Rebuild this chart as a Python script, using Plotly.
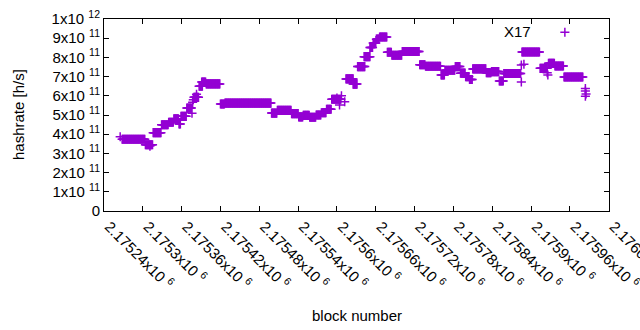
import plotly.graph_objects as go

# Runs of (nearly) constant hashrate: first block, last block, value [h/s]
run_start = [2175265, 2175268, 2175304, 2175311, 2175316, 2175329, 2175340, 2175348, 2175356,
             2175359, 2175368, 2175376, 2175377, 2175378, 2175379, 2175383, 2175387, 2175391,
             2175398, 2175420, 2175427, 2175499, 2175508, 2175530, 2175541, 2175548, 2175558,
             2175568, 2175576, 2175584, 2175592, 2175600, 2175604, 2175607, 2175612, 2175614,
             2175625, 2175632, 2175642, 2175651, 2175656, 2175661, 2175666, 2175678, 2175685,
             2175701, 2175728, 2175737, 2175761, 2175767, 2175783, 2175791, 2175799, 2175805,
             2175810, 2175831, 2175839, 2175851, 2175858, 2175885, 2175885, 2175886, 2175889,
             2175914, 2175925, 2175926, 2175927, 2175937, 2175951, 2175984, 2175984, 2175985,
             2175984]
run_end = [2175265, 2175303, 2175315, 2175311, 2175328, 2175339, 2175347, 2175355, 2175358,
           2175367, 2175375, 2175376, 2175377, 2175378, 2175386, 2175383, 2175392, 2175397,
           2175419, 2175426, 2175498, 2175507, 2175529, 2175540, 2175547, 2175557, 2175567,
           2175575, 2175583, 2175591, 2175606, 2175600, 2175604, 2175607, 2175612, 2175625,
           2175631, 2175643, 2175651, 2175655, 2175660, 2175665, 2175677, 2175684, 2175700,
           2175727, 2175736, 2175760, 2175766, 2175782, 2175790, 2175798, 2175804, 2175809,
           2175830, 2175838, 2175850, 2175857, 2175884, 2175885, 2175885, 2175913, 2175889,
           2175925, 2175925, 2175926, 2175936, 2175950, 2175980, 2175984, 2175984, 2175985,
           2175984]
run_value = [3.87e11, 3.74e11, 3.45e11, 3.38e11, 4.08e11, 4.49e11, 4.62e11, 4.80e11, 4.53e11,
             4.93e11, 5.36e11, 5.09e11, 5.66e11, 5.80e11, 5.92e11, 6.08e11, 6.50e11, 6.72e11,
             6.62e11, 5.57e11, 5.62e11, 5.10e11, 5.24e11, 5.07e11, 4.90e11, 4.98e11, 4.88e11,
             5.00e11, 5.12e11, 5.30e11, 5.82e11, 5.88e11, 5.52e11, 6.00e11, 5.69e11, 6.88e11,
             6.61e11, 7.52e11, 8.04e11, 8.52e11, 8.75e11, 8.95e11, 9.06e11, 8.27e11, 8.11e11,
             8.31e11, 7.62e11, 7.54e11, 7.08e11, 7.33e11, 7.52e11, 7.18e11, 7.00e11, 6.85e11,
             7.40e11, 7.20e11, 7.26e11, 6.77e11, 7.16e11, 7.60e11, 6.72e11, 8.28e11, 7.64e11,
             7.43e11, 7.20e11, 7.08e11, 7.69e11, 7.55e11, 6.98e11, 6.38e11, 6.25e11, 6.10e11,
             5.98e11]

series_name = "X17"
x_title = "block number"
y_title = "hashrate [h/s]"

x_tickvals = [2175240, 2175300, 2175360, 2175420, 2175480, 2175540, 2175600,
              2175660, 2175720, 2175780, 2175840, 2175900, 2175960, 2176020]
x_ticktext = ["2.17524x10 <sup>6</sup>", "2.1753x10 <sup>6</sup>", "2.17536x10 <sup>6</sup>",
              "2.17542x10 <sup>6</sup>", "2.17548x10 <sup>6</sup>", "2.17554x10 <sup>6</sup>",
              "2.1756x10 <sup>6</sup>", "2.17566x10 <sup>6</sup>", "2.17572x10 <sup>6</sup>",
              "2.17578x10 <sup>6</sup>", "2.17584x10 <sup>6</sup>", "2.1759x10 <sup>6</sup>",
              "2.17596x10 <sup>6</sup>", "2.17602x10 <sup>6</sup>"]
y_tickvals = [0, 1e11, 2e11, 3e11, 4e11, 5e11, 6e11, 7e11, 8e11, 9e11, 1e12]
y_ticktext = ["0", "1x10 <sup>11</sup>", "2x10 <sup>11</sup>", "3x10 <sup>11</sup>",
              "4x10 <sup>11</sup>", "5x10 <sup>11</sup>", "6x10 <sup>11</sup>",
              "7x10 <sup>11</sup>", "8x10 <sup>11</sup>", "9x10 <sup>11</sup>",
              "1x10 <sup>12</sup>"]

xs, ys = [], []
for s, e, v in zip(run_start, run_end, run_value):
    for b in range(s, e + 1):
        xs.append(b)
        ys.append(v)

COLOR = "#9400D3"
FONT = "Liberation Sans, Arial, sans-serif"
FS = 15

fig = go.Figure()
fig.add_trace(go.Scatter(
    x=xs, y=ys, mode="markers", name=" ",
    marker=dict(symbol="cross-thin", size=6.5, color=COLOR,
                line=dict(color=COLOR, width=1.5)),
    showlegend=True,
))

axis_common = dict(
    showgrid=False, zeroline=False, showline=True, linecolor="black", linewidth=1,
    mirror="ticks", ticks="inside", ticklen=5, tickcolor="black", tickwidth=1,
    tickfont=dict(family=FONT, size=FS, color="black"), automargin=False,
    ticklabeloverflow="allow",
)

fig.update_layout(
    width=640, height=330,
    margin=dict(l=104, r=31, t=19, b=119),
    paper_bgcolor="white", plot_bgcolor="white",
    font=dict(family=FONT, size=FS, color="black"),
    xaxis=dict(range=[2175240, 2176020.5], tickmode="array", tickvals=x_tickvals,
               ticktext=x_ticktext, tickangle=45, ticklabelshift=5, **axis_common),
    yaxis=dict(range=[0, 1e12], tickmode="array", tickvals=y_tickvals,
               ticktext=y_ticktext, **axis_common),
    legend=dict(x=0.873, y=1.016, xanchor="left", yanchor="top",
                bgcolor="rgba(0,0,0,0)", borderwidth=0,
                font=dict(family=FONT, size=FS)),
    annotations=[
        dict(text=x_title, xref="paper", yref="paper", x=0.5, y=0,
             xanchor="center", yanchor="middle", yshift=-104, showarrow=False,
             font=dict(family=FONT, size=FS, color="black")),
        dict(text=y_title, xref="paper", yref="paper", x=0, y=0.5, textangle=-90,
             xanchor="center", yanchor="middle", xshift=-86, showarrow=False,
             font=dict(family=FONT, size=FS, color="black")),
        dict(text=series_name, xref="paper", yref="paper", x=0.849, y=1,
             xanchor="right", yanchor="middle", yshift=-12, showarrow=False,
             font=dict(family=FONT, size=FS, color="black")),
    ],
)

fig.write_html("out.html", config={"displayModeBar": False},
               post_script="document.body.style.margin='0';")
